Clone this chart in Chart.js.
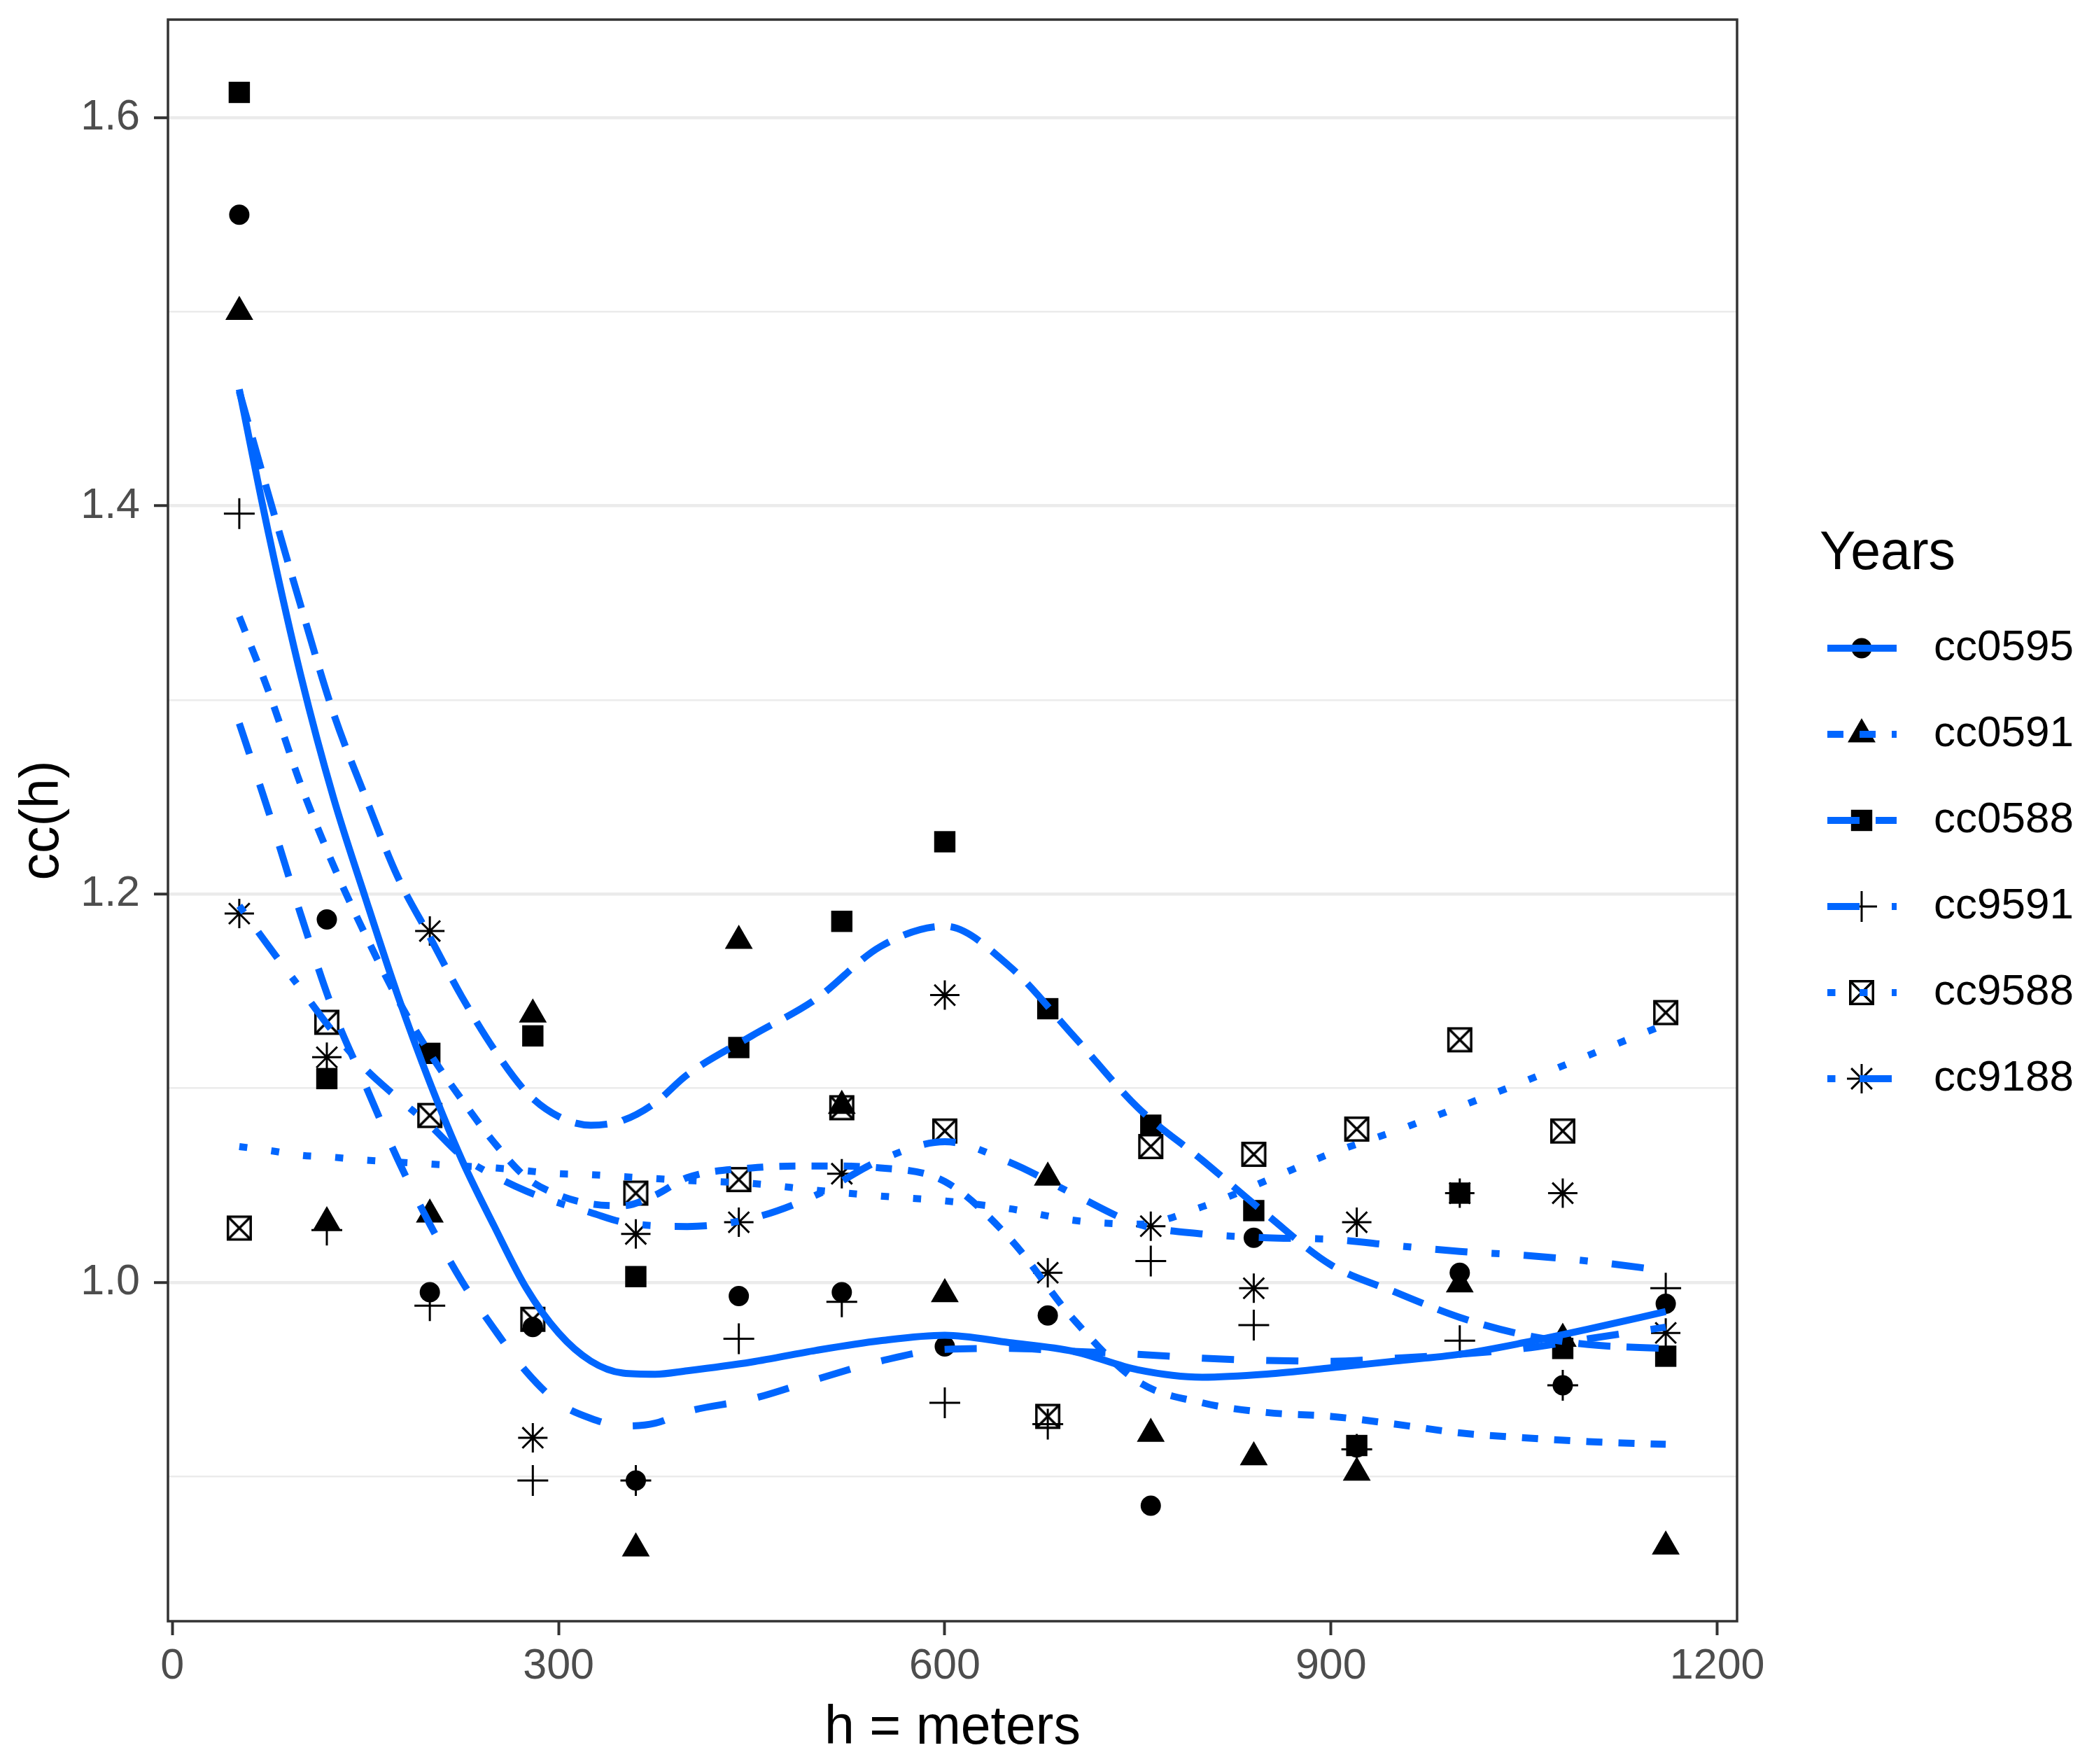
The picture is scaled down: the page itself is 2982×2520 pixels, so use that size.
<!DOCTYPE html>
<html>
<head>
<meta charset="utf-8">
<script src="https://cdn.jsdelivr.net/npm/chart.js@4.4.1/dist/chart.umd.min.js"></script>
<style>
html, body { margin: 0; padding: 0; background: #ffffff; }
#wrap { width: 2982px; height: 2520px; }
</style>
</head>
<body>
<div id="wrap"><canvas id="c" width="2982" height="2520" style="width:2982px;height:2520px"></canvas></div>
<script>
// ---------- data ----------
const lags = [52, 120, 200, 280, 360, 440, 520, 600, 680, 760, 840, 920, 1000, 1080, 1160];
const seriesNames = ['cc0595', 'cc0591', 'cc0588', 'cc9591', 'cc9588', 'cc9188'];

const cc0595 = [1.550, 1.187, 0.995, 0.977, 0.898, 0.993, 0.995, 0.967, 0.983, 0.885, 1.023, 0.915, 1.005, 0.947, 0.989];
const cc0591 = [1.500, 1.031, 1.035, 1.138, 0.863, 1.176, 1.091, 0.994, 1.054, 0.922, 0.910, 0.902, 0.999, 0.971, 0.864];
const cc0588 = [1.613, 1.105, 1.118, 1.127, 1.003, 1.121, 1.186, 1.227, 1.141, 1.081, 1.037, 0.916, 1.046, 0.966, 0.962];
const cc9591 = [1.396, 1.027, 0.988, 0.898, 0.898, 0.971, 0.990, 0.938, 0.927, 1.011, 0.978, 0.914, 0.970, 0.947, 0.997];
const cc9588 = [1.028, 1.134, 1.086, 0.981, 1.046, 1.053, 1.090, 1.078, 0.931, 1.070, 1.066, 1.079, 1.125, 1.078, 1.139];
const cc9188 = [1.190, 1.116, 1.181, 0.920, 1.025, 1.031, 1.056, 1.148, 1.005, 1.029, 0.997, 1.031, 1.046, 1.046, 0.974];

// smoothed (loess) curves
const fitX = [52, 75, 100, 125, 150, 175, 200, 225, 250, 275, 300, 325, 350, 375, 400, 450, 500, 550, 600, 650, 700, 750, 800, 850, 900, 950, 1000, 1050, 1100, 1160];
const fit0595 = [1.460, 1.385, 1.312, 1.250, 1.198, 1.148, 1.103, 1.063, 1.029, 0.997, 0.974, 0.9595, 0.9533, 0.9527, 0.9545, 0.959, 0.965, 0.970, 0.9728, 0.969, 0.9645, 0.955, 0.9512, 0.9528, 0.956, 0.9595, 0.963, 0.969, 0.976, 0.985];
const fit0591 = [1.343, 1.304, 1.256, 1.215, 1.179, 1.146, 1.118, 1.094, 1.072, 1.054, 1.045, 1.0405, 1.0395, 1.045, 1.054, 1.059, 1.060, 1.059, 1.052, 1.023, 0.981, 0.949, 0.938, 0.933, 0.931, 0.927, 0.9225, 0.920, 0.918, 0.9166];
const fit0588 = [1.459, 1.405, 1.348, 1.2935, 1.250, 1.209, 1.178, 1.147, 1.120, 1.098, 1.0855, 1.081, 1.0835, 1.0925, 1.107, 1.127, 1.146, 1.173, 1.1835, 1.163, 1.127, 1.090, 1.063, 1.035, 1.009, 0.995, 0.982, 0.973, 0.968, 0.966];
const fit9591 = [1.288, 1.242, 1.189, 1.140, 1.1015, 1.0635, 1.030, 1.0005, 0.976, 0.954, 0.938, 0.930, 0.926, 0.9275, 0.9335, 0.940, 0.950, 0.9595, 0.9655, 0.966, 0.9645, 0.963, 0.961, 0.9598, 0.9594, 0.961, 0.963, 0.966, 0.971, 0.977];
const fit9588 = [1.070, 1.068, 1.0655, 1.0645, 1.063, 1.062, 1.061, 1.060, 1.059, 1.0575, 1.056, 1.0555, 1.0545, 1.0535, 1.0525, 1.051, 1.0475, 1.0445, 1.042, 1.038, 1.032, 1.030, 1.039, 1.0525, 1.0665, 1.078, 1.0905, 1.1035, 1.117, 1.133];
const fit9188 = [1.194, 1.173, 1.151, 1.129, 1.110, 1.095, 1.081, 1.065, 1.055, 1.047, 1.041, 1.036, 1.031, 1.0292, 1.0288, 1.033, 1.045, 1.063, 1.0725, 1.062, 1.0455, 1.030, 1.025, 1.023, 1.0222, 1.019, 1.016, 1.014, 1.011, 1.006];

const xTicks = [0, 300, 600, 900, 1200];
const yMajorTicks = [1.0, 1.2, 1.4, 1.6];
const yMinorTicks = [0.9, 1.1, 1.3, 1.5];

// ---------- styles ----------
const BLUE = '#0066FF';
const LINE_W = 10;
const U = 11.5;
const dashes = [[], [2*U, 2*U], [4*U, 2*U], [4*U, 4*U], [1*U, 3*U], [1*U, 3*U, 4*U, 3*U]];

function crossedBox(size, lw) {
  const c = document.createElement('canvas');
  c.width = size; c.height = size;
  const g = c.getContext('2d');
  const m = lw / 2 + 1;
  g.strokeStyle = '#000'; g.lineWidth = lw;
  g.strokeRect(m, m, size - 2 * m, size - 2 * m);
  g.beginPath();
  g.moveTo(m, m); g.lineTo(size - m, size - m);
  g.moveTo(size - m, m); g.lineTo(m, size - m);
  g.stroke();
  return c;
}
const boxX = crossedBox(38, 3.5);

const markers = [
  {pointStyle: 'circle',   radius: 14.5, fill: true},
  {pointStyle: 'triangle', radius: 23, fill: true},
  {pointStyle: 'rect',     radius: 21.5, fill: true},
  {pointStyle: 'cross',    radius: 22, fill: false},
  {pointStyle: boxX,       radius: 18, fill: false},
  {pointStyle: 'star',     radius: 21, fill: false}
];

const pointSeries = [cc0595, cc0591, cc0588, cc9591, cc9588, cc9188];
const fitSeries = [fit0595, fit0591, fit0588, fit9591, fit9588, fit9188];

const datasets = [];
seriesNames.forEach((name, i) => {
  const mk = markers[i];
  datasets.push({
    type: 'scatter',
    label: name,
    data: lags.map((x, j) => ({x: x, y: pointSeries[i][j]})),
    pointStyle: mk.pointStyle,
    pointRadius: mk.radius,
    pointBackgroundColor: mk.fill ? '#000000' : 'rgba(0,0,0,0)',
    pointBorderColor: '#000000',
    pointBorderWidth: mk.fill ? 0 : 3,
    showLine: false,
    order: 2
  });
});
seriesNames.forEach((name, i) => {
  datasets.push({
    type: 'line',
    label: name + ' smooth',
    data: fitX.map((x, j) => ({x: x, y: fitSeries[i][j]})),
    borderColor: BLUE,
    borderWidth: LINE_W,
    borderDash: dashes[i],
    borderCapStyle: 'butt',
    borderJoinStyle: 'round',
    cubicInterpolationMode: 'monotone',
    pointRadius: 0,
    fill: false,
    order: 1
  });
});

const isMajor = v => yMajorTicks.some(m => Math.abs(m - v) < 1e-6);

const panelBorder = {
  id: 'panelBorder',
  afterDatasetsDraw(chart) {
    const {ctx, chartArea: a} = chart;
    ctx.save();
    ctx.strokeStyle = '#333333';
    ctx.lineWidth = 3.5;
    ctx.strokeRect(a.left, a.top, a.right - a.left, a.bottom - a.top);
    ctx.restore();
  }
};

function drawMarker(ctx, mk, x, y) {
  ctx.save();
  ctx.fillStyle = '#000';
  ctx.strokeStyle = '#000';
  ctx.lineWidth = mk.fill ? 0 : 3;
  if (Chart.helpers && Chart.helpers.drawPoint) {
    Chart.helpers.drawPoint(ctx, {pointStyle: mk.pointStyle, radius: mk.radius, rotation: 0, borderWidth: mk.fill ? 0 : 3}, x, y);
  } else if (typeof mk.pointStyle === 'object') {
    ctx.drawImage(mk.pointStyle, x - mk.pointStyle.width / 2, y - mk.pointStyle.height / 2);
  }
  ctx.restore();
}

const yearsLegend = {
  id: 'yearsLegend',
  afterDraw(chart) {
    const ctx = chart.ctx;
    ctx.save();
    ctx.fillStyle = '#000000';
    ctx.font = '77px "Liberation Sans", Arial, sans-serif';
    ctx.textAlign = 'left';
    ctx.textBaseline = 'middle';
    ctx.fillText('Years', 2600, 792);
    const y0 = 926, step = 123;
    seriesNames.forEach((name, i) => {
      const y = y0 + i * step;
      drawMarker(ctx, markers[i], 2660, y);
      ctx.save();
      ctx.strokeStyle = BLUE;
      ctx.lineWidth = LINE_W;
      ctx.lineCap = 'butt';
      ctx.setLineDash(dashes[i]);
      ctx.beginPath();
      ctx.moveTo(2611, y);
      ctx.lineTo(2710, y);
      ctx.stroke();
      ctx.restore();
      ctx.fillStyle = '#000000';
      ctx.font = '62px "Liberation Sans", Arial, sans-serif';
      ctx.textAlign = 'left';
      ctx.textBaseline = 'middle';
      ctx.fillText(name, 2763, y);
    });
    ctx.restore();
  }
};

const tickFont = {family: '"Liberation Sans", Arial, sans-serif', size: 61};
const titleFont = {family: '"Liberation Sans", Arial, sans-serif', size: 77};

new Chart(document.getElementById('c'), {
  type: 'scatter',
  data: {datasets: datasets},
  options: {
    responsive: false,
    animation: false,
    devicePixelRatio: 1,
    layout: {padding: {top: 28, left: 0, right: 500, bottom: 0}},
    plugins: {
      legend: {display: false},
      tooltip: {enabled: false}
    },
    scales: {
      x: {
        type: 'linear',
        min: -3.4,
        max: 1215.4,
        afterBuildTicks: (axis) => { axis.ticks = xTicks.map(v => ({value: v})); },
        afterFit: (scale) => { scale.height = 204; scale.paddingLeft = 0; scale.paddingRight = 0; },
        border: {display: false},
        grid: {
          display: true,
          drawOnChartArea: false,
          drawTicks: true,
          tickLength: 20,
          tickColor: '#333333',
          tickWidth: 4
        },
        ticks: {
          autoSkip: false,
          maxRotation: 0,
          padding: 9,
          color: '#4D4D4D',
          font: tickFont,
          callback: (v) => String(v)
        },
        title: {
          display: true,
          text: 'h = meters',
          color: '#000000',
          font: titleFont,
          padding: {top: 0, bottom: 4}
        }
      },
      y: {
        type: 'linear',
        min: 0.8255,
        max: 1.6505,
        afterBuildTicks: (axis) => {
          axis.ticks = yMinorTicks.concat(yMajorTicks).sort((a, b) => a - b).map(v => ({value: v}));
        },
        afterFit: (scale) => { scale.width = 240; scale.paddingTop = 0; scale.paddingBottom = 0; },
        border: {display: false},
        grid: {
          display: true,
          drawOnChartArea: true,
          drawTicks: true,
          tickLength: 20,
          color: '#EBEBEB',
          lineWidth: (c) => (c.tick && isMajor(c.tick.value)) ? 4.5 : 2.5,
          tickColor: (c) => (c.tick && isMajor(c.tick.value)) ? '#333333' : 'rgba(0,0,0,0)',
          tickWidth: 4
        },
        ticks: {
          autoSkip: false,
          padding: 20,
          color: '#4D4D4D',
          font: tickFont,
          callback: (v) => isMajor(v) ? Number(v).toFixed(1) : ''
        },
        title: {
          display: true,
          text: 'cc(h)',
          color: '#000000',
          font: titleFont,
          padding: {top: 16, bottom: 0}
        }
      }
    }
  },
  plugins: [panelBorder, yearsLegend]
});
</script>
</body>
</html>
